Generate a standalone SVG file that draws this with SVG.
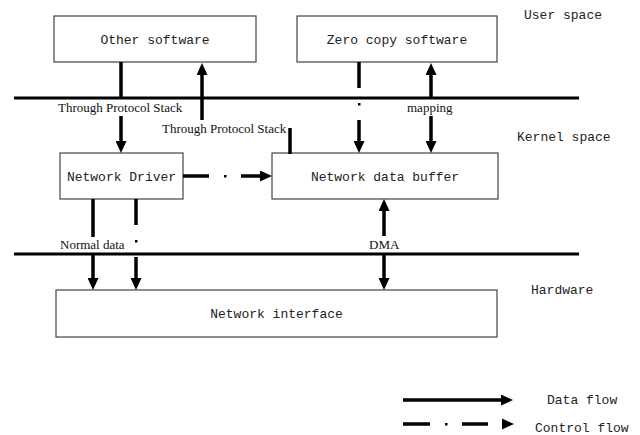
<svg xmlns="http://www.w3.org/2000/svg" width="640" height="435" viewBox="0 0 640 435">
<style>
.box{fill:#fff;stroke:#444;stroke-width:1.2}
.mono{font-family:"Liberation Mono","DejaVu Sans Mono",monospace;font-size:13px;fill:#222}
.serif{font-family:"Liberation Serif","Times New Roman",serif;font-size:13px;fill:#111}
.sep{stroke:#000;stroke-width:3;fill:none}
.flow{stroke:#000;stroke-width:3.5;fill:none}
.dot{fill:#000}
</style>
<defs>
<marker id="arr" viewBox="0 0 12 11" markerWidth="12" markerHeight="11" refX="8" refY="5.5" markerUnits="userSpaceOnUse" orient="auto-start-reverse">
<path d="M0,0 L12,5.5 L0,11 z" fill="#000"/>
</marker>
</defs>
<rect width="640" height="435" fill="#fff"/>
<g id="separators">
<line class="sep" x1="14" y1="98" x2="579" y2="98"/>
<line class="sep" x1="14" y1="254" x2="579" y2="254"/>
</g>
<g id="other-software"><rect class="box" x="54" y="16" width="202" height="46"/><text class="mono" x="155" y="44" text-anchor="middle">Other software</text></g>
<g id="zero-copy-software"><rect class="box" x="297" y="16" width="200" height="46"/><text class="mono" x="397" y="44" text-anchor="middle">Zero copy software</text></g>
<g id="network-driver"><rect class="box" x="60" y="153" width="123" height="46"/><text class="mono" x="121.5" y="181" text-anchor="middle">Network Driver</text></g>
<g id="network-data-buffer"><rect class="box" x="272" y="153" width="226" height="46"/><text class="mono" x="385" y="181" text-anchor="middle">Network data buffer</text></g>
<g id="network-interface"><rect class="box" x="56" y="290" width="441" height="47"/><text class="mono" x="276.5" y="318" text-anchor="middle">Network interface</text></g>
<g id="region-labels">
<text class="mono" x="524" y="19">User space</text>
<text class="mono" x="517" y="141">Kernel space</text>
<text class="mono" x="531" y="294">Hardware</text>
</g>
<g id="connectors">
<line class="flow" x1="121" y1="62" x2="121" y2="98"/>
<line class="flow" x1="121" y1="116" x2="121" y2="149" marker-end="url(#arr)"/>
<text class="serif" x="58" y="112">Through Protocol Stack</text>
<line class="flow" x1="202" y1="120" x2="202" y2="67" marker-end="url(#arr)"/>
<text class="serif" x="162" y="133">Through Protocol Stack</text>
<line class="flow" x1="290" y1="128" x2="290" y2="154"/>
<line class="flow" x1="183" y1="176" x2="209" y2="176"/>
<rect class="dot" x="224" y="175" width="2.5" height="2.5"/>
<line class="flow" x1="241" y1="176" x2="268" y2="176" marker-end="url(#arr)"/>
<line class="flow" x1="359" y1="62" x2="359" y2="88"/>
<rect class="dot" x="358" y="103" width="2.5" height="2.5"/>
<line class="flow" x1="359" y1="120" x2="359" y2="149" marker-end="url(#arr)"/>
<line class="flow" x1="431" y1="98" x2="431" y2="67" marker-end="url(#arr)"/>
<line class="flow" x1="431" y1="116" x2="431" y2="149" marker-end="url(#arr)"/>
<text class="serif" x="407" y="112">mapping</text>
<line class="flow" x1="93" y1="199" x2="93" y2="237"/>
<line class="flow" x1="93" y1="254" x2="93" y2="286" marker-end="url(#arr)"/>
<text class="serif" x="60" y="249">Normal data</text>
<line class="flow" x1="136" y1="199" x2="136" y2="225"/>
<rect class="dot" x="135" y="240" width="2.5" height="2.5"/>
<line class="flow" x1="136" y1="257" x2="136" y2="286" marker-end="url(#arr)"/>
<line class="flow" x1="384" y1="236" x2="384" y2="203" marker-end="url(#arr)"/>
<line class="flow" x1="384" y1="254" x2="384" y2="286" marker-end="url(#arr)"/>
<text class="serif" x="369" y="249">DMA</text>
</g>
<g id="legend">
<line class="flow" x1="403" y1="400" x2="509" y2="400" marker-end="url(#arr)"/>
<text class="mono" x="547" y="404">Data flow</text>
<line class="flow" x1="403" y1="424" x2="430" y2="424"/>
<rect class="dot" x="445" y="423" width="2.5" height="2.5"/>
<line class="flow" x1="462" y1="424" x2="488" y2="424"/>
<path d="M502,418.5 L514,424 L502,429.5 z" fill="#000"/>
<text class="mono" x="535" y="432">Control flow</text>
</g>
</svg>
